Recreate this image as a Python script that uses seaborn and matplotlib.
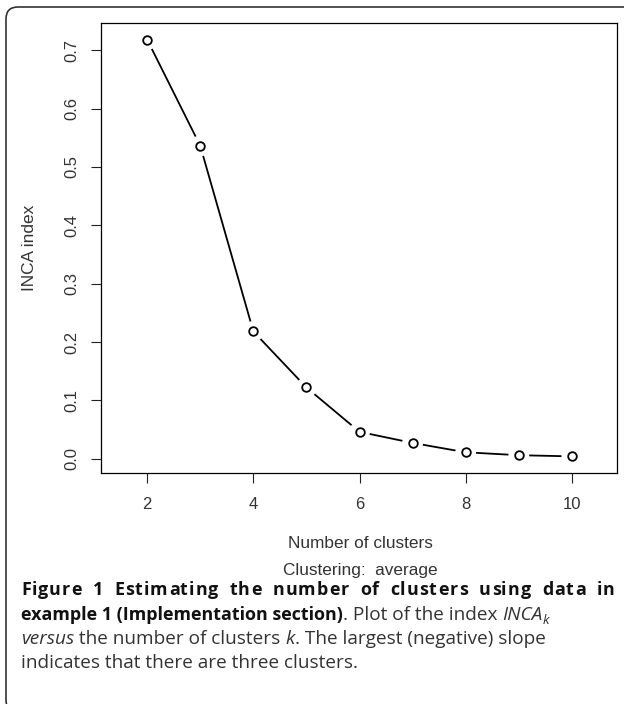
"""
INCA index versus number of clusters, R-style point/line plot with caption.
"""

import matplotlib.pyplot as plt
import matplotlib.transforms as mtransforms
from matplotlib.patches import FancyBboxPatch
import seaborn as sns

clusters = [2, 3, 4, 5, 6, 7, 8, 9, 10]
inca_index = [0.718, 0.536, 0.218, 0.122, 0.046, 0.027, 0.011, 0.006, 0.004]
x_ticks = [2, 4, 6, 8, 10]
y_ticks = [0.0, 0.1, 0.2, 0.3, 0.4, 0.5, 0.6, 0.7]

caption_title = "Figure 1 Estimating the number of clusters using data in"
caption_lines = [
    [
        ("example 1 (Implementation section)", "bold", "normal", 0),
        (". Plot of the index ", "normal", "normal", 0),
        ("INCA", "normal", "italic", 0),
        ("k", "normal", "italic", 1),
    ],
    [
        ("versus", "normal", "italic", 0),
        (" the number of clusters ", "normal", "normal", 0),
        ("k", "normal", "italic", 0),
        (". The largest (negative) slope", "normal", "normal", 0),
    ],
    [("indicates that there are three clusters.", "normal", "normal", 0)],
]

sns.set_style("ticks")
plt.rcParams["font.family"] = ["Liberation Sans", "DejaVu Sans"]

W, H = 624, 704
fig = plt.figure(figsize=(W / 100, H / 100), dpi=100)
ax = fig.add_axes([101 / W, 1 - 473 / H, 516 / W, 450 / H])

# line first, then white halos to get the gaps of R's type="b", then circles
sns.lineplot(x=clusters, y=inca_index, color="black", lw=1.3, ax=ax, zorder=1)
sns.scatterplot(x=clusters, y=inca_index, s=15 ** 2, color="white",
                edgecolor="none", ax=ax, zorder=2)
sns.scatterplot(x=clusters, y=inca_index, s=6.2 ** 2, color="white",
                edgecolor="black", linewidth=1.3, ax=ax, zorder=3)

ax.set_xlim(1.13, 10.85)
ax.set_ylim(-0.0245, 0.7465)
ax.set_xticks(x_ticks)
ax.set_xticklabels([str(v) for v in x_ticks])
ax.set_yticks(y_ticks)
ax.set_yticklabels([f"{v:.1f}" for v in y_ticks], rotation=90, va="center")
ax.tick_params(axis="both", length=7.5, width=0.8, color="#222222",
               labelsize=12, labelcolor="#333333")
ax.tick_params(axis="x", pad=10)
ax.tick_params(axis="y", pad=8)
for sp in ax.spines.values():
    sp.set_visible(True)
    sp.set_linewidth(0.9)
    sp.set_color("black")
ax.set_xlabel("")
ax.set_ylabel("")

fig.text(30 / W, 1 - 248 / H, "INCA index", rotation=90, ha="center",
         va="center", fontsize=12.4, color="#333333")
fig.text(360 / W, 1 - 544 / H, "Number of clusters", ha="center",
         va="center", fontsize=12.4, color="#333333")
fig.text(360 / W, 1 - 570 / H, "Clustering:  average", ha="center",
         va="center", fontsize=12.4, color="#333333")

# rounded frame around the figure panel (open at the right edge)
frame = FancyBboxPatch((6, -8), 650, 705,
                       boxstyle="round,pad=0,rounding_size=12",
                       transform=mtransforms.IdentityTransform(),
                       facecolor="none", edgecolor="#333333", lw=1.2)
fig.add_artist(frame)

# caption
renderer = fig.canvas.get_renderer()
cap_family = ["Open Sans", "DejaVu Sans"]
bold_size = 12.9
norm_size = 13.7
left, right = 21, 615


def text_width(s, **kw):
    t = fig.text(0, 0, s, **kw)
    w = t.get_window_extent(renderer=renderer).width
    t.remove()
    return w


# first line: bold, slightly letter-spaced and justified to the full width
bold_kw = dict(fontsize=bold_size, fontweight="bold", family=cap_family)
natural = text_width(caption_title, **bold_kw)
n_spaces = caption_title.count(" ")
track = 1.0
word_extra = (right - left - natural - track * (len(caption_title) - 1)) / n_spaces
spaces_seen = 0
for i, ch in enumerate(caption_title):
    if ch == " ":
        spaces_seen += 1
        continue
    x = (left + (text_width(caption_title[:i], **bold_kw) if i else 0)
         + i * track + spaces_seen * word_extra)
    fig.text(round(x) / W, (H - 595) / H, ch, color="#111111", ha="left",
             va="baseline", **bold_kw)

baselines = [620, 644, 668]
for pieces, base in zip(caption_lines, baselines):
    x = left
    for text, weight, style, sub in pieces:
        size = bold_size if weight == "bold" else norm_size
        if sub:
            size *= 0.7
        y = H - base - (4 if sub else 0)
        col = "#111111" if weight == "bold" else "#333333"
        t = fig.text(x / W, y / H, text, fontsize=size, fontweight=weight,
                     fontstyle=style, family=cap_family,
                     color=col, ha="left", va="baseline")
        bb = t.get_window_extent(renderer=renderer)
        x += bb.width

fig.savefig("out.png", dpi=100)
